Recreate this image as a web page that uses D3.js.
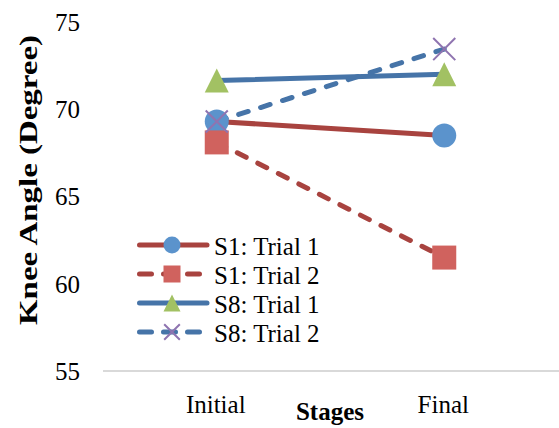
<!DOCTYPE html>
<html><head><meta charset="utf-8">
<script src="https://cdn.jsdelivr.net/npm/d3@7"></script>
<style>body{margin:0;background:#fff}svg{display:block}</style>
</head><body>
<svg id="c" width="559" height="428"></svg>
<script>
const categories = ["Initial", "Final"];
const seriesNames = ["S1: Trial 1", "S1: Trial 2", "S8: Trial 1", "S8: Trial 2"];
const s1t1 = [69.3, 68.5];
const s1t2 = [68.1, 61.5];
const s8t1 = [71.65, 72.0];
const s8t2 = [69.3, 73.45];
const yTicks = [55, 60, 65, 70, 75];

const series = [
  {name: seriesNames[0], values: s1t1, line: "#a8433f", dash: false, marker: "circle", fill: "#5b93cc"},
  {name: seriesNames[1], values: s1t2, line: "#a8433f", dash: true, marker: "square", fill: "#d0625e"},
  {name: seriesNames[2], values: s8t1, line: "#4674a8", dash: false, marker: "triangle", fill: "#a2c163"},
  {name: seriesNames[3], values: s8t2, line: "#4674a8", dash: true, marker: "x", fill: "#8f74b0"}
];

const svg = d3.select("#c");
const font = "'Liberation Serif','Times New Roman',serif";
const x = d3.scaleBand().domain(categories).range([103, 558]);
const y = d3.scaleLinear().domain([55, 75]).range([371, 22]);

// y tick labels
svg.append("g").selectAll("text").data(yTicks).join("text")
  .attr("x", 80).attr("y", d => y(d)).attr("dy", "0.35em")
  .attr("text-anchor", "end").attr("font-family", font).attr("font-size", 25)
  .attr("fill", "#000").text(d => d);

// x axis line
svg.append("line").attr("x1", 103).attr("x2", 559).attr("y1", y(55)).attr("y2", y(55))
  .attr("stroke", "#d9d9d9").attr("stroke-width", 2);

// x tick labels
svg.append("g").selectAll("text").data(categories).join("text")
  .attr("x", d => x(d) + x.bandwidth() / 2 - 1).attr("y", 413)
  .attr("text-anchor", "middle").attr("font-family", font).attr("font-size", 25)
  .text(d => d);

// axis titles
svg.append("text").attr("x", 330).attr("y", 420).attr("text-anchor", "middle")
  .attr("font-family", font).attr("font-size", 25).attr("font-weight", "bold").text("Stages");
svg.append("text").attr("transform", "translate(37,180) rotate(-90)").attr("text-anchor", "middle")
  .attr("font-family", font).attr("font-size", 25).attr("font-weight", "bold")
  .attr("textLength", 290).attr("lengthAdjust", "spacingAndGlyphs")
  .text("Knee Angle (Degree)");

function drawMarker(g, type, cx, cy, size, fill) {
  const h = size / 2;
  if (type === "circle") g.append("circle").attr("cx", cx).attr("cy", cy).attr("r", h).attr("fill", fill);
  else if (type === "square") g.append("rect").attr("x", cx - h).attr("y", cy - h).attr("width", size).attr("height", size).attr("fill", fill);
  else if (type === "triangle") g.append("path").attr("d", `M${cx},${cy - h}L${cx + h},${cy + h}L${cx - h},${cy + h}Z`).attr("fill", fill);
  else if (type === "x") {
    const k = h * 0.92;
    g.append("path").attr("d", `M${cx - k},${cy - k}L${cx + k},${cy + k}M${cx - k},${cy + k}L${cx + k},${cy - k}`)
      .attr("stroke", fill).attr("stroke-width", 2).attr("fill", "none");
  }
}

const line = d3.line().x((d, i) => x(categories[i]) + x.bandwidth() / 2).y(d => y(d));
const plot = svg.append("g");
series.forEach(s => {
  plot.append("path").attr("d", line(s.values)).attr("fill", "none")
    .attr("stroke", s.line).attr("stroke-width", 5).attr("stroke-linecap", "round")
    .attr("stroke-dasharray", s.dash ? "10,13" : null);
});
series.forEach(s => {
  s.values.forEach((v, i) => drawMarker(plot, s.marker, x(categories[i]) + x.bandwidth() / 2, y(v), 24, s.fill));
});

// legend
const legY = [245, 274, 303, 332];
const leg = svg.append("g");
series.forEach((s, i) => {
  const ly = legY[i];
  leg.append("line").attr("x1", 139.5).attr("x2", s.dash ? 199.5 : 207).attr("y1", ly).attr("y2", ly)
    .attr("stroke", s.line).attr("stroke-width", 5).attr("stroke-linecap", "round")
    .attr("stroke-dasharray", s.dash ? "12,12" : null);
  drawMarker(leg, s.marker, 172, ly, 17, s.fill);
  leg.append("text").attr("x", 214).attr("y", ly).attr("dy", "0.4em")
    .attr("font-family", font).attr("font-size", 25).text(s.name);
});
</script>
</body></html>
